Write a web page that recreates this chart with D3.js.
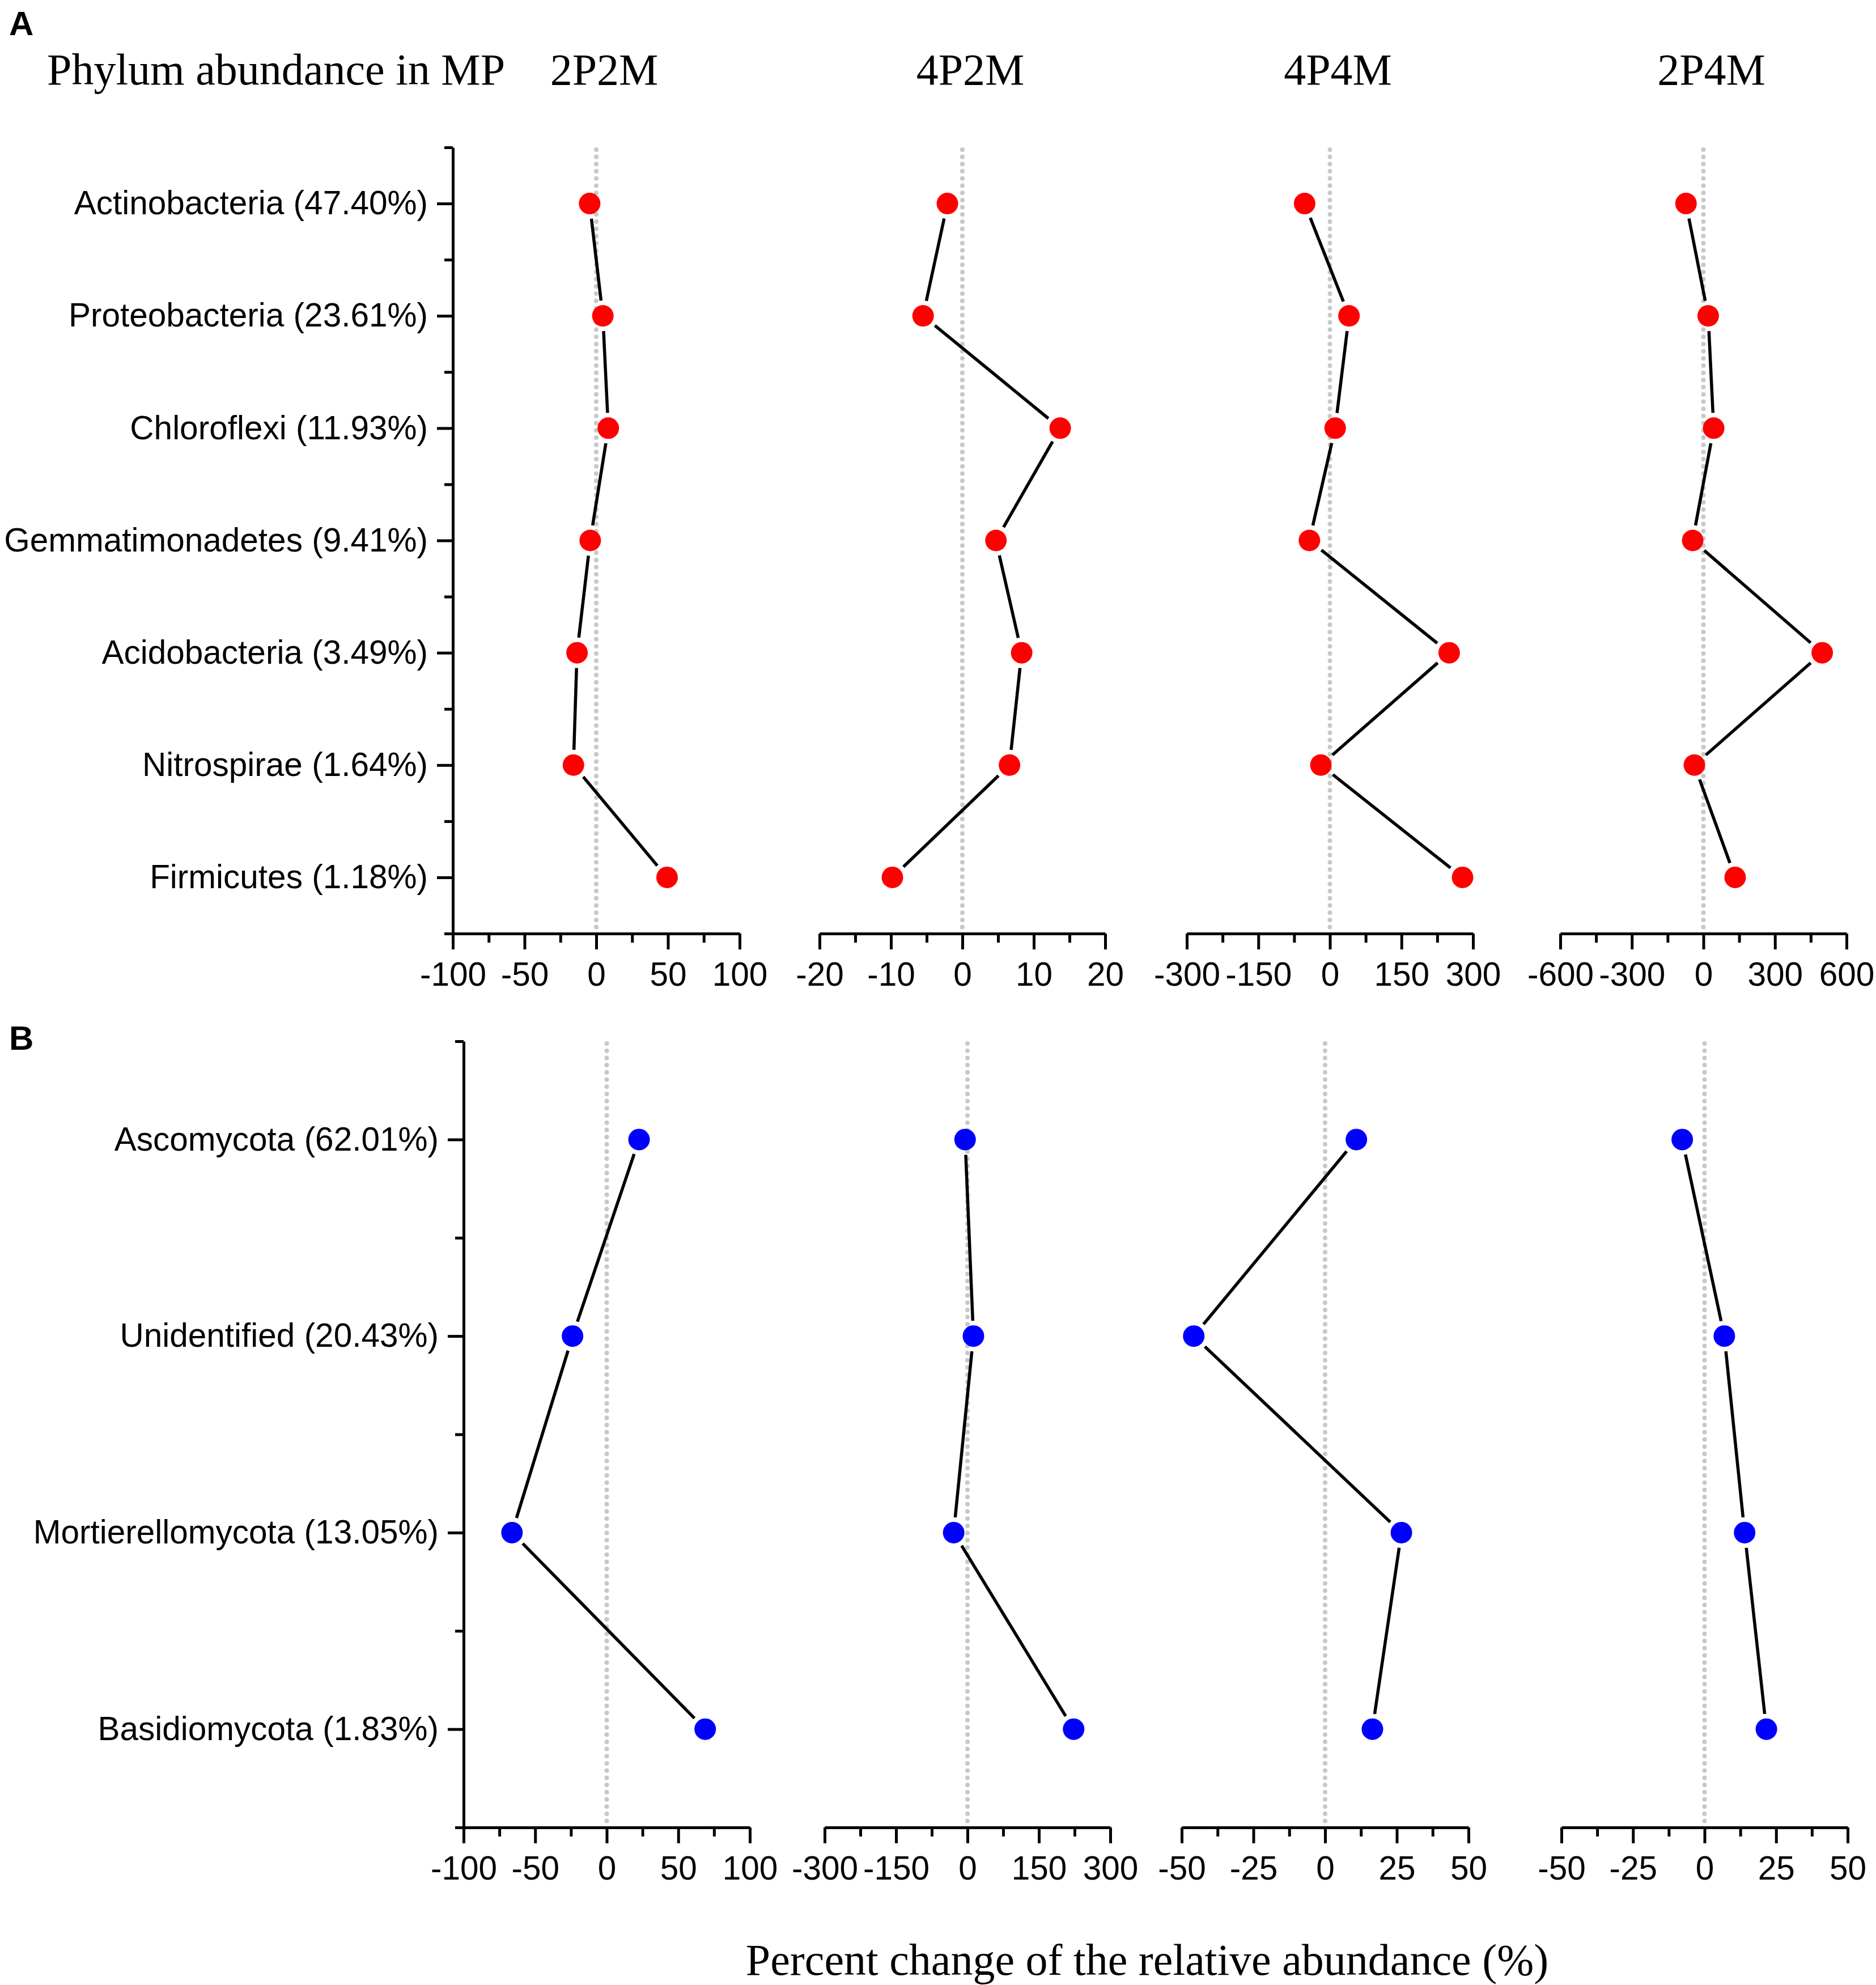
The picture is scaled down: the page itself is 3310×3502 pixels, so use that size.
<!DOCTYPE html>
<html>
<head>
<meta charset="utf-8">
<script src="https://cdn.jsdelivr.net/npm/d3@7"></script>
<style>
  body { margin: 0; background: #fff; }
  svg { display: block; }
</style>
</head>
<body>
<div id="chart"></div>
<script>
// Percent change of phylum relative abundance: bacteria (A) and fungi (B)

const treatments = ["2P2M", "4P2M", "4P4M", "2P4M"];

const bacteriaPhyla = [
    "Actinobacteria (47.40%)",
    "Proteobacteria (23.61%)",
    "Chloroflexi (11.93%)",
    "Gemmatimonadetes (9.41%)",
    "Acidobacteria (3.49%)",
    "Nitrospirae (1.64%)",
    "Firmicutes (1.18%)"
];
const bacteria2P2M = [-4.6, 4.6, 8.4, -4.2, -13.4, -15.9, 49.4];
const bacteria4P2M = [-2.1, -5.5, 13.7, 4.7, 8.3, 6.6, -9.8];
const bacteria4P4M = [-53, 40, 11, -43, 250, -19, 278];
const bacteria2P4M = [-73, 20, 43, -45, 498, -38, 133];
const bacteriaTicks = [
    [-100, -50, 0, 50, 100],
    [-20, -10, 0, 10, 20],
    [-300, -150, 0, 150, 300],
    [-600, -300, 0, 300, 600]
];

const fungiPhyla = [
    "Ascomycota (62.01%)",
    "Unidentified (20.43%)",
    "Mortierellomycota (13.05%)",
    "Basidiomycota (1.83%)"
];
const fungi2P2M = [22.6, -23.9, -66.2, 68.8];
const fungi4P2M = [-5, 12.5, -29, 223];
const fungi4P4M = [10.9, -45.8, 26.6, 16.5];
const fungi2P4M = [-7.8, 6.9, 14.0, 21.6];
const fungiTicks = [
    [-100, -50, 0, 50, 100],
    [-300, -150, 0, 150, 300],
    [-50, -25, 0, 25, 50],
    [-50, -25, 0, 25, 50]
];

const width = 3310, height = 3502;
const sans = "'Liberation Sans', Arial, sans-serif";
const serif = "'Liberation Serif', 'Times New Roman', serif";

const svg = d3.select("#chart")
    .append("svg")
    .attr("width", width)
    .attr("height", height);

function styleAxis(g) {
    g.attr("font-size", 58.5).attr("font-family", sans);
    g.select(".domain").attr("stroke", "#000").attr("stroke-width", 5);
    g.selectAll(".tick line").attr("stroke", "#000").attr("stroke-width", 5);
    g.selectAll(".tick text").attr("fill", "#000");
}

function drawBlock(cfg) {
    const n = cfg.labels.length;
    const y = d3.scaleLinear()
        .domain([0.5, n + 0.5])
        .range([cfg.top, cfg.bottom]);

    // Left axis only on first panel
    const yMinor = d3.range(0, n + 1).map(i => i + 0.5);
    svg.append("g")
        .attr("transform", `translate(${cfg.panelX[0][0]},0)`)
        .call(d3.axisLeft(y).tickValues(yMinor).tickSize(15).tickFormat(""))
        .call(g => { styleAxis(g); g.select(".domain").remove(); });

    svg.append("g")
        .attr("transform", `translate(${cfg.panelX[0][0]},0)`)
        .call(d3.axisLeft(y)
            .tickValues(d3.range(1, n + 1))
            .tickFormat(i => cfg.labels[i - 1])
            .tickSize(28)
            .tickSizeOuter(0)
            .tickPadding(16))
        .call(styleAxis);

    cfg.series.forEach((values, i) => {
        const ticks = cfg.ticks[i];
        const x = d3.scaleLinear()
            .domain(d3.extent(ticks))
            .range(cfg.panelX[i]);
        const g = svg.append("g");

        // dotted zero line
        g.append("line")
            .attr("x1", x(0)).attr("x2", x(0))
            .attr("y1", cfg.top + 4).attr("y2", cfg.bottom - 4)
            .attr("stroke", "#c8c8c8")
            .attr("stroke-width", 8)
            .attr("stroke-linecap", "round")
            .attr("stroke-dasharray", "0,12.7");

        // minor ticks halfway between labelled ticks
        const minor = d3.pairs(ticks).map(([a, b]) => (a + b) / 2);
        g.append("g")
            .attr("transform", `translate(0,${cfg.bottom})`)
            .call(d3.axisBottom(x).tickValues(minor).tickSize(16).tickFormat(""))
            .call(a => { styleAxis(a); a.select(".domain").remove(); });

        g.append("g")
            .attr("transform", `translate(0,${cfg.bottom})`)
            .call(d3.axisBottom(x)
                .tickValues(ticks)
                .tickFormat(d => String(d))
                .tickSize(28)
                .tickSizeOuter(0)
                .tickPadding(22))
            .call(styleAxis);

        // connecting segments, stopped short of each marker
        const pts = values.map((v, j) => [x(v), y(j + 1)]);
        const gap = 27;
        d3.pairs(pts).forEach(([p, q]) => {
            const dx = q[0] - p[0], dy = q[1] - p[1];
            const k = gap / Math.hypot(dx, dy);
            g.append("line")
                .attr("x1", p[0] + dx * k).attr("y1", p[1] + dy * k)
                .attr("x2", q[0] - dx * k).attr("y2", q[1] - dy * k)
                .attr("stroke", "#000")
                .attr("stroke-width", 5.5);
        });

        g.selectAll("circle")
            .data(values)
            .enter()
            .append("circle")
            .attr("cx", d => x(d))
            .attr("cy", (d, j) => y(j + 1))
            .attr("r", 19)
            .attr("fill", cfg.color);
    });
}

drawBlock({
    labels: bacteriaPhyla,
    series: [bacteria2P2M, bacteria4P2M, bacteria4P4M, bacteria2P4M],
    ticks: bacteriaTicks,
    panelX: [[799, 1305], [1446, 1950], [2094, 2599], [2753, 3258]],
    top: 260,
    bottom: 1647,
    color: "#ff0000"
});

drawBlock({
    labels: fungiPhyla,
    series: [fungi2P2M, fungi4P2M, fungi4P4M, fungi2P4M],
    ticks: fungiTicks,
    panelX: [[818, 1323], [1455, 1959], [2085, 2591], [2755, 3260]],
    top: 1837,
    bottom: 3224,
    color: "#0000ff"
});

// Panel letters
svg.append("text")
    .attr("x", 16).attr("y", 62)
    .attr("font-family", sans).attr("font-weight", "bold").attr("font-size", 60)
    .text("A");

svg.append("text")
    .attr("x", 16).attr("y", 1852)
    .attr("font-family", sans).attr("font-weight", "bold").attr("font-size", 60)
    .text("B");

// Header row
svg.append("text")
    .attr("x", 83).attr("y", 149)
    .attr("font-family", serif).attr("font-size", 78)
    .text("Phylum abundance in MP");

const headerX = [[799, 1305], [1446, 1950], [2094, 2599], [2753, 3258]];
svg.selectAll("text.header")
    .data(treatments)
    .enter()
    .append("text")
    .attr("class", "header")
    .attr("x", (d, i) => (headerX[i][0] + headerX[i][1]) / 2 + 14)
    .attr("y", 149)
    .attr("text-anchor", "middle")
    .attr("font-family", serif).attr("font-size", 78)
    .text(d => d);

// Shared x-axis title
svg.append("text")
    .attr("x", 2024).attr("y", 3484)
    .attr("text-anchor", "middle")
    .attr("font-family", serif).attr("font-size", 78)
    .text("Percent change of the relative abundance (%)");
</script>
</body>
</html>
